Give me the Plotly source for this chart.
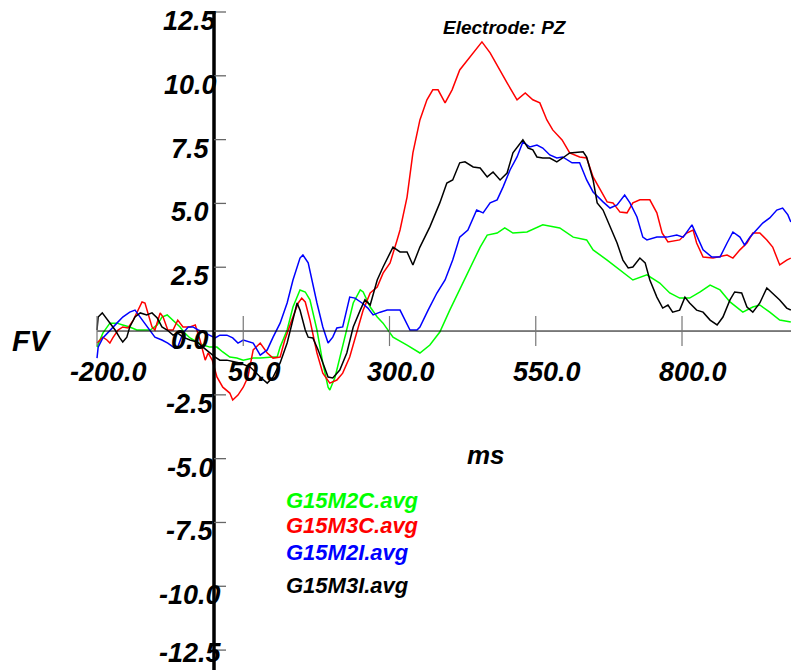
import plotly.graph_objects as go

# ---------------- data (ms, µV) ----------------
green_ms = [-200,-190,-178,-166,-156,-144,-132,-121,-109,-97,-89,-80,-70,-58,-50,-41,-29,-19,-7,5,
            15,27,39,50,67,79,101,108,113,125,135,147,156,164,176,186,195,198,207,215,
            227,238,250,255,267,279,289,306,330,352,369,386,403,420,437,455,467,484,497,511,
            535,562,591,614,637,648,672,694,716,740,762,779,796,813,831,848,865,882,904,921,
            933,950,967,986]
green_uv = [-0.63,-0.08,0.31,0.31,0.24,0.16,0.04,0.04,0.04,0.24,0.55,0.63,0.43,0.16,-0.08,-0.27,-0.43,-0.55,-0.63,-0.63,
            -0.82,-1.02,-1.06,-1.14,-1.06,-1.06,-1.02,-1.02,-0.63,0.04,0.94,1.61,1.53,1.22,0.04,-1.25,-2.20,-2.31,-1.80,-1.02,
            0.04,1.10,1.61,1.53,0.94,0.55,0.31,-0.24,-0.55,-0.86,-0.55,-0.04,0.82,1.61,2.39,3.29,3.76,3.84,4.04,3.84,
            3.88,4.16,4.04,3.68,3.57,3.18,2.78,2.39,2.00,2.20,1.88,1.49,1.29,1.29,1.53,1.80,1.61,1.14,0.74,0.94,
            1.02,0.74,0.43,0.35]

red_ms = [-200,-190,-183,-178,-173,-164,-156,-147,-138,-130,-123,-118,-113,-106,-101,-92,-87,-79,-70,-62,
          -53,-41,-32,-24,-15,-10,-3,5,15,27,32,41,50,58,67,79,91,101,113,121,
          133,144,150,156,164,176,186,198,210,220,232,244,255,267,279,289,301,313,318,330,
          340,352,364,374,383,395,407,420,438,458,472,485,501,518,532,545,557,569,579,595,
          608,625,637,648,660,672,682,694,706,716,728,745,757,766,776,796,808,819,825,836,
          853,877,887,899,911,921,933,945,955,967,979,986]
red_uv = [-0.47,-0.24,-0.35,-0.47,-0.27,0.04,0.16,0.12,0.43,0.82,1.14,1.10,0.71,0.16,0.04,0.71,0.55,0.04,0.04,0.43,
          0.16,0.16,0.24,-0.35,-1.14,-0.86,-1.14,-1.80,-2.20,-2.43,-2.70,-2.51,-2.20,-1.80,-0.74,-0.47,-0.86,-1.06,-1.02,-0.35,
          0.43,1.10,1.29,1.14,0.43,-0.86,-1.65,-2.04,-1.92,-1.65,-1.02,-0.08,0.82,1.49,1.72,2.27,2.67,3.57,3.96,5.25,
          6.98,8.27,9.06,9.45,9.45,8.94,9.45,10.23,10.74,11.33,10.90,10.35,9.72,9.06,9.33,9.06,8.94,8.27,7.88,7.49,
          6.98,6.82,6.78,6.04,5.53,5.06,5.02,4.66,4.63,5.02,5.14,5.14,4.63,3.84,3.49,3.57,3.84,3.96,3.45,2.90,
          2.86,2.98,2.86,3.18,3.45,3.84,3.84,3.57,3.29,2.59,2.78,2.86]

blue_ms = [-200,-198,-190,-178,-166,-156,-144,-135,-126,-118,-109,-101,-89,-79,-67,-62,-53,-44,-36,-27,
           -15,-7,2,10,22,32,41,50,67,79,91,101,113,125,135,147,152,161,167,176,
           186,195,203,210,220,232,241,253,263,272,284,296,318,326,335,347,352,366,381,395,
           408,420,434,449,460,472,484,494,506,518,528,540,552,562,574,586,596,612,625,637,
           648,665,677,689,702,711,723,733,740,757,774,791,802,817,827,836,851,865,877,887,
           899,907,916,928,938,950,962,972,981,986]
blue_uv = [-1.06,-0.63,-0.27,0.04,0.31,0.55,0.74,0.82,0.55,0.31,0.04,-0.24,-0.35,-0.47,-0.67,-0.63,-0.08,0.16,0.16,0.04,
           -0.08,-0.16,-0.27,-0.16,-0.16,-0.27,-0.47,-0.35,-0.47,-0.94,-0.74,-0.24,0.31,1.10,2.00,2.86,2.98,2.67,2.00,1.10,
           0.16,-0.47,-0.24,0.12,0.16,1.33,1.29,1.10,0.90,0.63,0.74,0.82,0.82,0.43,0.04,0.04,0.16,0.82,1.49,2.00,
           2.78,3.68,3.96,4.74,4.63,5.02,5.14,5.64,6.31,6.82,7.41,7.21,7.29,7.17,6.90,6.78,6.82,6.59,6.59,5.92,
           5.45,5.06,4.82,4.94,5.33,5.02,4.47,3.68,3.57,3.68,3.68,3.76,3.68,4.16,3.68,3.18,2.90,2.90,3.45,3.88,
           3.68,3.37,3.68,3.96,4.23,4.43,4.74,4.82,4.55,4.27]

black_ms = [-200,-198,-191,-186,-178,-169,-161,-156,-149,-144,-135,-126,-115,-106,-97,-89,-80,-70,-62,-53,
            -41,-29,-19,-7,2,10,22,44,62,79,91,101,113,125,133,142,147,156,161,169,
            178,186,195,203,215,227,238,250,258,267,279,289,301,306,318,330,340,352,369,386,
            398,408,420,429,443,455,467,477,489,501,511,523,528,537,545,552,562,574,586,596,
            608,631,637,648,655,665,677,689,699,708,716,728,737,745,757,767,776,784,796,805,
            813,825,836,848,860,870,882,890,902,911,921,933,945,955,967,979,986]
black_uv = [0.04,0.55,0.71,0.55,0.31,0.04,-0.27,-0.43,-0.24,0.16,0.55,0.71,0.63,0.71,0.51,0.16,0.04,-0.16,-0.08,-0.24,
            -0.35,-0.43,-0.63,-0.86,-1.02,-1.14,-1.14,-1.25,-1.41,-1.80,-2.04,-1.80,-1.25,-0.47,0.31,1.10,0.82,0.04,-0.24,-0.27,
            -0.74,-1.25,-1.80,-1.84,-1.53,-0.86,0.16,0.82,1.22,1.02,2.00,2.51,3.06,3.29,3.10,3.10,2.59,3.29,4.08,5.02,
            5.80,5.92,6.59,6.63,6.43,6.39,6.04,6.23,5.92,6.19,6.98,7.37,7.49,7.17,7.10,6.82,6.78,6.78,6.63,6.78,
            6.98,7.02,6.82,5.92,5.02,4.74,4.08,3.45,2.78,2.47,2.51,2.86,2.67,2.00,1.33,0.90,1.02,0.74,0.82,1.33,
            1.10,0.82,0.74,0.43,0.24,0.55,1.22,1.53,1.49,0.94,0.74,1.10,1.69,1.49,1.22,0.90,0.82]

series_names = ["G15M2C.avg", "G15M3C.avg", "G15M2I.avg", "G15M3I.avg"]
series_colors = ["#00ff00", "#ff0000", "#0000ff", "#000000"]

x_tick_vals = [-200, 50, 300, 550, 800]
x_tick_text = ["-200.0", "50.0", "300.0", "550.0", "800.0"]
y_tick_vals = [12.5, 10.0, 7.5, 5.0, 2.5, 0.0, -2.5, -5.0, -7.5, -10.0, -12.5]
y_tick_text = ["12.5", "10.0", "7.5", "5.0", "2.5", "0.0", "-2.5", "-5.0", "-7.5", "-10.0", "-12.5"]

title_text = "Electrode: PZ"
x_title = "ms"
y_title = "FV"

# ---------------- figure ----------------
FONT = "Liberation Sans, Arial, sans-serif"
fig = go.Figure()
all_series = [(green_ms, green_uv), (red_ms, red_uv), (blue_ms, blue_uv), (black_ms, black_uv)]
for (xs, ys), name, col in zip(all_series, series_names, series_colors):
    fig.add_trace(go.Scatter(x=xs, y=ys, mode="lines", name=name,
                             line=dict(color=col, width=1.5), showlegend=False,
                             hoverinfo="skip"))

shapes = []
# y axis (vertical, thick) at 0 ms
shapes.append(dict(type="line", xref="x", yref="y", x0=0, x1=0, y0=y_tick_vals[0], y1=-14,
                   line=dict(color="black", width=3.5)))
# x axis at 0 µV
shapes.append(dict(type="line", xref="x", yref="y", x0=x_tick_vals[0], x1=1000, y0=0, y1=0,
                   line=dict(color="black", width=1)))
for v in y_tick_vals:
    shapes.append(dict(type="line", xref="x", yref="y", xsizemode="pixel", xanchor=0,
                       x0=0, x1=12, y0=v, y1=v, line=dict(color="#666666", width=1.3)))
for v in x_tick_vals:
    shapes.append(dict(type="line", xref="x", yref="y", ysizemode="pixel", yanchor=0,
                       x0=v, x1=v, y0=-15, y1=15, line=dict(color="#777777", width=1.2)))

tick_font = dict(family=FONT, size=27, color="black", weight="bold", style="italic")
annotations = []
y_min_tick = min(y_tick_vals)
for v, t in zip(y_tick_vals, y_tick_text):
    shift = -9 if v != y_min_tick else -3   # keep the bottom label inside the page
    annotations.append(dict(x=0, y=v, xref="x", yref="y", text=t, showarrow=False,
                            xanchor="center", yanchor="middle", xshift=-24, yshift=shift,
                            font=tick_font))
for v, t in zip(x_tick_vals, x_tick_text):
    annotations.append(dict(x=v, y=0, xref="x", yref="y", text=t, showarrow=False,
                            xanchor="center", yanchor="middle", xshift=11, yshift=-41,
                            font=tick_font))
annotations.append(dict(x=32 / 791, y=1 - 341 / 670, xref="paper", yref="paper", text=y_title,
                        showarrow=False, xanchor="center", yanchor="middle",
                        font=dict(family=FONT, size=29, color="black", weight="bold", style="italic")))
annotations.append(dict(x=486 / 791, y=1 - 455 / 670, xref="paper", yref="paper", text=x_title,
                        showarrow=False, xanchor="center", yanchor="middle",
                        font=dict(family=FONT, size=26, color="black", weight="bold", style="italic")))
annotations.append(dict(x=505 / 791, y=1 - 27 / 670, xref="paper", yref="paper", text=title_text,
                        showarrow=False, xanchor="center", yanchor="middle",
                        font=dict(family=FONT, size=19, color="black", weight="bold", style="italic")))
legend_rows = [500, 525, 552, 585]
for name, col, row in zip(series_names, series_colors, legend_rows):
    annotations.append(dict(x=284 / 791, y=1 - row / 670, xref="paper", yref="paper", text=name,
                            showarrow=False, xanchor="left", yanchor="middle",
                            font=dict(family=FONT, size=22, color=col, weight="bold", style="italic")))

fig.update_layout(
    width=791, height=670, autosize=False,
    margin=dict(l=0, r=0, t=0, b=0, pad=0),
    paper_bgcolor="white", plot_bgcolor="white",
    xaxis=dict(range=[-365.8, 986.3], visible=False, fixedrange=True),
    yaxis=dict(range=[-13.28, 12.97], visible=False, fixedrange=True),
    shapes=shapes, annotations=annotations, showlegend=False,
)

fig.write_html("out.html", config={"displayModeBar": False},
               post_script="document.body.style.margin='0';document.body.style.overflow='hidden';")
